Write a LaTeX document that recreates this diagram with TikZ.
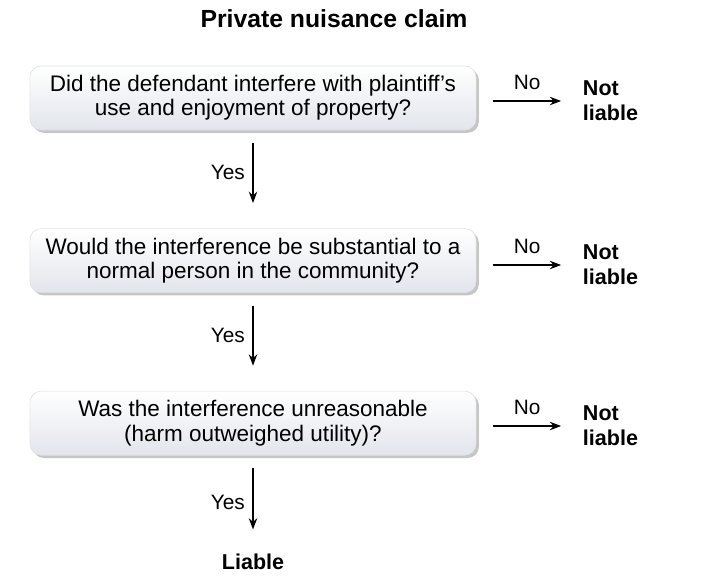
\documentclass[tikz,border=0pt]{standalone}
\usepackage{fontspec}
\setmainfont{Liberation Sans}
\usepackage{tikz}
\usetikzlibrary{positioning, shadows, arrows.meta}

\definecolor{boxfill}{RGB}{226,229,236}

\begin{document}
\begin{tikzpicture}[
    x=0.025cm, y=-0.025cm,
    qbox/.style={
        rectangle, rounded corners=8pt,
        draw=gray!25, top color=white, bottom color=boxfill,
        drop shadow={shadow xshift=2pt, shadow yshift=-2pt, opacity=0.45},
        minimum width=11.15cm,
        minimum height=1.6cm,
        align=center, font=\fontsize{16}{17.2}\selectfont
    },
    verdict/.style={font=\fontsize{15.3}{18}\selectfont\bfseries, align=left},
    link/.style={-{Stealth[length=8pt,width=6pt]}, line width=1pt},
    lbl/.style={font=\fontsize{14.8}{16}\selectfont}
]
\useasboundingbox (0,0) rectangle (713,581);

\node[font=\fontsize{17.6}{20}\selectfont\bfseries] (title) at (334,19) {Private nuisance claim};

\node[qbox] (q1) at (253,98) {Did the defendant interfere with plaintiff's\\use and enjoyment of property?};
\node[qbox, below=2.45cm of q1] (q2) {Would the interference be substantial to a\\normal person in the community?};
\node[qbox, below=2.45cm of q2] (q3) {Was the interference unreasonable\\(harm outweighed utility)?};

\node[verdict, anchor=west] (n1) at (578,101) {Not\\liable};
\node[verdict, anchor=west] (n2) at (578,265) {Not\\liable};
\node[verdict, anchor=west] (n3) at (578,426) {Not\\liable};
\node[verdict] (liable) at (253,562) {Liable};

\draw[link, shorten <=12pt, shorten >=12pt] (q1.east |- n1) -- node[lbl, above=4pt] {No} (n1.west);
\draw[link, shorten <=12pt, shorten >=12pt] (q2.east |- n2) -- node[lbl, above=4pt] {No} (n2.west);
\draw[link, shorten <=12pt, shorten >=12pt] (q3.east |- n3) -- node[lbl, above=4pt] {No} (n3.west);

\draw[link, shorten <=9pt, shorten >=18pt] (q1.south) -- node[lbl, left=2pt, pos=0.43] {Yes} (q2.north);
\draw[link, shorten <=9pt, shorten >=18pt] (q2.south) -- node[lbl, left=2pt, pos=0.43] {Yes} (q3.north);
\draw[link, shorten <=9pt, shorten >=14pt] (q3.south) -- node[lbl, left=2pt] {Yes} (liable.north);

\end{tikzpicture}
\end{document}
